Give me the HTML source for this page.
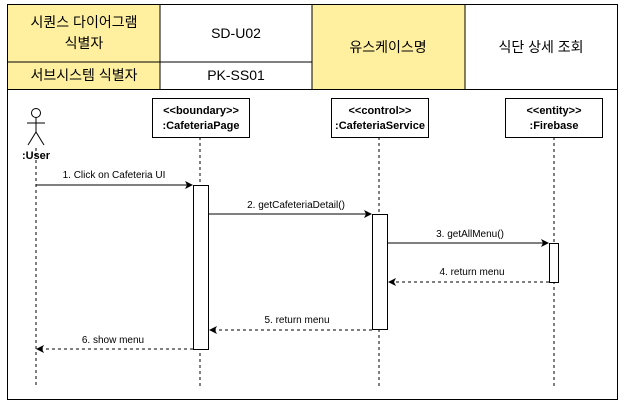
<!DOCTYPE html>
<html><head><meta charset="utf-8"><style>
body{margin:0;background:#fff;width:625px;height:405px;overflow:hidden}
</style></head><body>
<svg width="625" height="405" xmlns="http://www.w3.org/2000/svg" font-family="'Liberation Sans','Noto Sans CJK KR',sans-serif">
<rect x="7.5" y="4.5" width="610" height="395" fill="#fff" stroke="#000"/>
<rect x="7.5" y="4.5" width="152.5" height="84.5" fill="#FFF0A0"/>
<rect x="312" y="4.5" width="153" height="84.5" fill="#FFF0A0"/>
<g stroke="#000" fill="none">
<rect x="7.5" y="4.5" width="610" height="85"/>
<line x1="160" y1="4.5" x2="160" y2="89.5"/>
<line x1="312" y1="4.5" x2="312" y2="89.5"/>
<line x1="465" y1="4.5" x2="465" y2="89.5"/>
<line x1="7.5" y1="62" x2="312" y2="62"/>
</g>
<g font-size="14" text-anchor="middle" fill="#000">
<text x="84" y="27">시퀀스 다이어그램</text>
<text x="84" y="48">식별자</text>
<text x="84" y="80">서브시스템 식별자</text>
<text x="236" y="38">SD-U02</text>
<text x="236" y="80">PK-SS01</text>
<text x="388" y="52">유스케이스명</text>
<text x="541" y="52">식단 상세 조회</text>
</g>
<g stroke="#000" stroke-dasharray="3,3" fill="none">
<line x1="36" y1="148" x2="36" y2="388"/>
<line x1="200" y1="137" x2="200" y2="388"/>
<line x1="379" y1="137" x2="379" y2="388"/>
<line x1="554" y1="137" x2="554" y2="388"/>
</g>
<g stroke="#000" fill="#fff">
<rect x="152.5" y="98.5" width="97" height="39"/>
<rect x="331.5" y="98.5" width="97" height="39"/>
<rect x="505.5" y="98.5" width="97" height="39"/>
<rect x="193.5" y="185.5" width="15" height="164"/>
<rect x="372.5" y="214.5" width="15" height="115"/>
<rect x="549.5" y="243.5" width="9" height="39"/>
</g>
<g font-size="11" font-weight="bold" text-anchor="middle">
<text x="201" y="114">&lt;&lt;boundary&gt;&gt;</text>
<text x="201" y="129">:CafeteriaPage</text>
<text x="380" y="114">&lt;&lt;control&gt;&gt;</text>
<text x="380" y="129">:CafeteriaService</text>
<text x="554" y="114">&lt;&lt;entity&gt;&gt;</text>
<text x="554" y="129">:Firebase</text>
<text x="36" y="159">:User</text>
</g>
<g stroke="#000" fill="none">
<circle cx="36" cy="113" r="4.5"/>
<line x1="36" y1="117.5" x2="36" y2="132"/>
<line x1="27" y1="123" x2="45" y2="123"/>
<line x1="36" y1="132" x2="28" y2="145"/>
<line x1="36" y1="132" x2="44" y2="145"/>
</g>
<g stroke="#000" fill="none">
<line x1="36" y1="185" x2="191" y2="185"/>
<line x1="209" y1="214" x2="370" y2="214"/>
<line x1="388" y1="243" x2="547" y2="243"/>
<line x1="549" y1="282" x2="390" y2="282" stroke-dasharray="3,3"/>
<line x1="372" y1="330" x2="211" y2="330" stroke-dasharray="3,3"/>
<line x1="193" y1="349" x2="38" y2="349" stroke-dasharray="3,3"/>
</g>
<g fill="#000">
<path d="M193 185 l-8 -4 l2 4 l-2 4z"/>
<path d="M372 214 l-8 -4 l2 4 l-2 4z"/>
<path d="M549 243 l-8 -4 l2 4 l-2 4z"/>
<path d="M388 282 l8 -4 l-2 4 l2 4z"/>
<path d="M209 330 l8 -4 l-2 4 l2 4z"/>
<path d="M36 349 l8 -4 l-2 4 l2 4z"/>
</g>
<g font-size="10" text-anchor="middle">
<text x="114" y="178">1. Click on Cafeteria UI</text>
<text x="296" y="208">2. getCafeteriaDetail()</text>
<text x="470" y="237">3. getAllMenu()</text>
<text x="472" y="275">4. return menu</text>
<text x="297" y="323">5. return menu</text>
<text x="113" y="343">6. show menu</text>
</g>
</svg>
</body></html>
